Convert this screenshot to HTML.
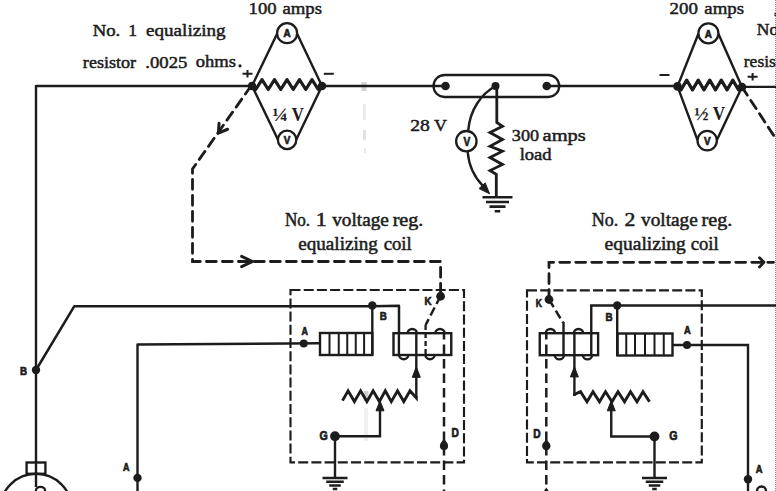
<!DOCTYPE html>
<html><head><meta charset="utf-8"><style>
html,body{margin:0;padding:0;background:#fff;}
body{width:776px;height:491px;overflow:hidden;}
svg{display:block;}
</style></head><body>
<svg width="776" height="491" viewBox="0 0 776 491">
<rect x="0" y="0" width="776" height="491" fill="#fff"/>
<rect x="768" y="0" width="8" height="491" fill="#fbfbfb" stroke="none"/><rect x="774.5" y="13" width="1.5" height="3" fill="#222"/><path d="M775.5,0 V491" stroke="#8a8a8a" stroke-width="1" stroke-dasharray="1 1"/>
<g stroke="#1c1c1c" fill="none" stroke-linecap="butt">
<rect x="364" y="408" width="4" height="33" fill="#f0f0f0" stroke="none"/>
<rect x="363.5" y="391" width="5" height="10" fill="#cfcfcf" stroke="none"/>
<rect x="364" y="148" width="2" height="5" fill="#e8e8e8" stroke="none"/>
<rect x="363" y="130" width="3" height="10" fill="#e2e2e2" stroke="none"/>
<rect x="363" y="104" width="3" height="16" fill="#ebebeb" stroke="none"/>
<rect x="361.5" y="82" width="5" height="9" fill="#d4d4d4" stroke="none"/>
<circle cx="240" cy="65.8" r="1.6" fill="#1c1c1c" stroke="none"/>
<path d="M242.5,73.8 H252.5 M247.5,70.0 V77.6" stroke-width="2" />
<path d="M323.8,73.8 H333.8" stroke-width="2" />
<path d="M659.5,75 H669.5" stroke-width="2" />
<path d="M747.6,76.8 H757.6 M752.6,73.0 V80.6" stroke-width="2" />
<path d="M36,86 H252 M322,86 H445.5 M546.75,86 H677.5 M742,86.9 H776" stroke-width="2.4" />
<path d="M36,84.9 V487" stroke-width="2.4" />
<path d="M252,86 L277.1,33.7 M322,86 L297.1,33.7" stroke-width="2.4" />
<path d="M252,86 L277.90000000000003,139.4 M322,86 L296.3,139.4" stroke-width="2.4" />
<circle cx="287.1" cy="33.2" r="10.0" fill="#fff" stroke-width="2.3"/>
<circle cx="287.1" cy="139.9" r="9.2" fill="#fff" stroke-width="2.3"/>
<text transform="translate(287.10,37.44) scale(0.9,1)" x="0" y="0" font-family="Liberation Sans" font-size="11" font-weight="bold" text-anchor="middle" fill="#1c1c1c" stroke="#1c1c1c" stroke-width="0.7">A</text>
<text transform="translate(287.10,144.14) scale(0.9,1)" x="0" y="0" font-family="Liberation Sans" font-size="11" font-weight="bold" text-anchor="middle" fill="#1c1c1c" stroke="#1c1c1c" stroke-width="0.7">V</text>
<path d="M252.00,86.00 L255.75,89.50 L262.00,79.70 L268.25,89.50 L274.50,79.70 L280.75,89.50 L287.00,79.70 L293.25,89.50 L299.50,79.70 L305.75,89.50 L312.00,79.70 L318.25,89.50 L322.00,86.00" stroke-width="3.2" stroke-linejoin="round"/>
<circle cx="252" cy="86" r="4.3" fill="#1c1c1c" stroke="none"/>
<circle cx="322" cy="86" r="4.3" fill="#1c1c1c" stroke="none"/>
<path d="M677.5,86.4 L698.4,33.8 M742,87 L718.4,33.8" stroke-width="2.4" />
<path d="M677.5,86.4 L697.5,140.1 M742,87 L716.9000000000001,140.1" stroke-width="2.4" />
<circle cx="708.4" cy="33.3" r="10.0" fill="#fff" stroke-width="2.3"/>
<circle cx="707.2" cy="140.6" r="9.7" fill="#fff" stroke-width="2.3"/>
<text transform="translate(708.40,37.54) scale(0.9,1)" x="0" y="0" font-family="Liberation Sans" font-size="11" font-weight="bold" text-anchor="middle" fill="#1c1c1c" stroke="#1c1c1c" stroke-width="0.7">A</text>
<text transform="translate(707.20,144.84) scale(0.9,1)" x="0" y="0" font-family="Liberation Sans" font-size="11" font-weight="bold" text-anchor="middle" fill="#1c1c1c" stroke="#1c1c1c" stroke-width="0.7">V</text>
<path d="M677.50,86.40 L680.96,89.90 L686.71,80.10 L692.47,89.90 L698.23,80.10 L703.99,89.90 L709.75,80.10 L715.51,89.90 L721.27,80.10 L727.03,89.90 L732.79,80.10 L738.54,89.90 L742.00,87.00" stroke-width="3.2" stroke-linejoin="round"/>
<circle cx="677.5" cy="86.4" r="4.3" fill="#1c1c1c" stroke="none"/>
<circle cx="742" cy="87" r="4.3" fill="#1c1c1c" stroke="none"/>
<rect x="433.5" y="75" width="125.75" height="22" rx="11" ry="11" fill="none" stroke-width="2.3"/>
<circle cx="445.5" cy="86" r="4.3" fill="#1c1c1c" stroke="none"/>
<circle cx="546.75" cy="86" r="4.3" fill="#1c1c1c" stroke="none"/>
<circle cx="495.5" cy="86" r="4.0" fill="#1c1c1c" stroke="none"/>
<path d="M496.80,86.00 L496.80,122.50 L502.50,126.30 L490.00,132.50 L502.50,139.40 L490.00,146.20 L502.50,151.20 L490.00,157.50 L502.50,164.40 L490.00,170.60 L496.30,174.40 L496.30,197.30" stroke-width="2.8" stroke-linejoin="miter" stroke-miterlimit="6"/>
<path d="M482.50,197.30 H512.50 M486.00,201.95 H509.00 M489.50,206.60 H505.50 M494.75,211.25 H500.25 " stroke-width="2.6" />
<path d="M495.5,86 C481,94 470,110 468.3,130" stroke-width="2.4" />
<path d="M467.7,152 C469,168 476,179 483.5,186.5" stroke-width="2.4" />
<path d="M489.60,193.80 L479.04,188.60 L485.19,182.88 Z" fill="#1c1c1c" stroke-width="1" stroke-linejoin="round"/>
<circle cx="466.35" cy="141.2" r="10.2" fill="#fff" stroke-width="2.3"/>
<text transform="translate(466.80,146.20) scale(0.85,1)" x="0" y="0" font-family="Liberation Sans" font-size="12" font-weight="bold" text-anchor="middle" fill="#1c1c1c" stroke="#1c1c1c" stroke-width="0.7">V</text>
<path d="M251,86 L192.5,169 V261.5 H440.6 V296" stroke-width="2.8" stroke-dasharray="9.8 6.2" stroke-dashoffset="0" stroke-linecap="round"/>
<path d="M219.05,123.26 L218.40,133.20 L227.55,129.25" stroke-width="3" stroke-linecap="round" stroke-linejoin="round"/>
<path d="M241.60,266.70 L252.60,261.50 L241.60,256.30" stroke-width="3" stroke-linecap="round" stroke-linejoin="round"/>
<path d="M742,87 L776,139" stroke-width="2.8" stroke-dasharray="9.8 6.2" stroke-dashoffset="0" stroke-linecap="round"/>
<path d="M549,299.5 V262.3 H773.5" stroke-width="2.8" stroke-dasharray="9.8 6.2" stroke-dashoffset="0" stroke-linecap="round"/>
<path d="M759.50,266.90 L764.00,262.30 L759.50,257.70" stroke-width="2.8" stroke-linecap="round" stroke-linejoin="round"/>
<rect x="290.5" y="290" width="173.5" height="172.3" fill="none" stroke-width="2.15" stroke-dasharray="10 3.2"/>
<rect x="527" y="290.3" width="174.8" height="172" fill="none" stroke-width="2.15" stroke-dasharray="10 3.2"/>
<path d="M36,370 L74.2,306.3 H372 L399,305.7 V333.2" stroke-width="2.5" stroke-linejoin="round"/>
<path d="M372.3,305.5 V355" stroke-width="2.4" />
<path d="M137.5,491 V344.5 L320,343.3" stroke-width="2.4" stroke-linejoin="round"/>
<circle cx="36" cy="370" r="4.2" fill="#1c1c1c" stroke="none"/>
<circle cx="372.3" cy="305.5" r="4.2" fill="#1c1c1c" stroke="none"/>
<circle cx="303.75" cy="343.5" r="4.0" fill="#1c1c1c" stroke="none"/>
<circle cx="137.5" cy="477.9" r="4.2" fill="#1c1c1c" stroke="none"/>
<text transform="translate(23.50,374.82) scale(0.85,1)" x="0" y="0" font-family="Liberation Sans" font-size="11.5" font-weight="bold" text-anchor="middle" fill="#1c1c1c" stroke="#1c1c1c" stroke-width="0.7">B</text>
<text transform="translate(383.20,319.52) scale(0.85,1)" x="0" y="0" font-family="Liberation Sans" font-size="11.5" font-weight="bold" text-anchor="middle" fill="#1c1c1c" stroke="#1c1c1c" stroke-width="0.7">B</text>
<text transform="translate(304.75,335.01) scale(0.85,1)" x="0" y="0" font-family="Liberation Sans" font-size="10.5" font-weight="bold" text-anchor="middle" fill="#1c1c1c" stroke="#1c1c1c" stroke-width="0.7">A</text>
<text transform="translate(126.20,470.96) scale(0.85,1)" x="0" y="0" font-family="Liberation Sans" font-size="10.5" font-weight="bold" text-anchor="middle" fill="#1c1c1c" stroke="#1c1c1c" stroke-width="0.7">A</text>
<text transform="translate(428.00,304.52) scale(0.85,1)" x="0" y="0" font-family="Liberation Sans" font-size="11.5" font-weight="bold" text-anchor="middle" fill="#1c1c1c" stroke="#1c1c1c" stroke-width="0.7">K</text>
<text transform="translate(323.75,439.78) scale(0.85,1)" x="0" y="0" font-family="Liberation Sans" font-size="12.5" font-weight="bold" text-anchor="middle" fill="#1c1c1c" stroke="#1c1c1c" stroke-width="0.7">G</text>
<text transform="translate(455.30,436.50) scale(0.85,1)" x="0" y="0" font-family="Liberation Sans" font-size="12" font-weight="bold" text-anchor="middle" fill="#1c1c1c" stroke="#1c1c1c" stroke-width="0.7">D</text>
<rect x="320" y="333" width="52.3" height="22" fill="none" stroke-width="2.4"/>
<path d="M329.5,333 V355 M338.75,333 V355 M347.25,333 V355 M355.75,333 V355 M364.1,333 V355" stroke-width="2.0" />
<rect x="393.5" y="333.2" width="57.75" height="21.8" fill="none" stroke-width="2.4"/>
<path d="M398.9,333 V355" stroke-width="2.4" />
<path d="M407.65,333.2 A4.6,4.2 0 0 1 416.85,333.2" stroke-width="2.4" />
<path d="M435.4,333.2 A4.6,4.2 0 0 1 444.6,333.2" stroke-width="2.4" />
<path d="M399.15,355 A4.6,4.2 0 0 0 408.35,355" stroke-width="2.4" />
<path d="M425.4,355 A4.6,4.2 0 0 0 434.6,355" stroke-width="2.4" />
<path d="M416.3,333 V397.5" stroke-width="2.4" />
<path d="M425.6,325 V355" stroke-width="2.3" stroke-dasharray="5 3" stroke-dashoffset="0" stroke-linecap="butt"/>
<path d="M444,333 V491" stroke-width="2.5" stroke-dasharray="9.5 5" stroke-dashoffset="3" stroke-linecap="butt"/>
<path d="M416.30,366.80 L420.30,377.30 L412.30,377.30 Z" fill="#1c1c1c" stroke-width="1" stroke-linejoin="round"/>
<circle cx="440.6" cy="296.25" r="4.4" fill="#1c1c1c" stroke="none"/>
<path d="M440.6,296 L425.6,325" stroke-width="2.5" stroke-dasharray="9 4" stroke-dashoffset="0" stroke-linecap="butt"/>
<path d="M342.50,400.60 L348.10,390.80 L354.40,401.60 L360.60,390.80 L366.90,401.60 L373.10,390.80 L379.40,401.60 L385.30,390.80 L391.30,401.60 L397.50,390.80 L403.80,401.60 L410.00,390.80 L416.30,398.00 L416.30,396.00" stroke-width="2.9" stroke-linejoin="miter" stroke-miterlimit="6"/>
<path d="M335,436.25 H380 V408" stroke-width="2.4" />
<path d="M380.00,400.80 L384.00,410.80 L376.00,410.80 Z" fill="#1c1c1c" stroke-width="1" stroke-linejoin="round"/>
<circle cx="335" cy="436.25" r="4.9" fill="#1c1c1c" stroke="none"/>
<path d="M335,436.25 V478" stroke-width="2.4" />
<path d="M322.50,478.00 H347.50 M326.25,481.70 H343.75 M329.25,485.40 H340.75 M332.75,489.10 H337.25 " stroke-width="2.5" />
<circle cx="444" cy="446" r="4.1" fill="#1c1c1c" stroke="none"/>
<path d="M444,438.8 L447.6,443.5 L440.4,443.5 Z" fill="#1c1c1c" stroke="none"/>
<path d="M591.25,333 V305.5 H776" stroke-width="2.4" />
<path d="M617.2,305.5 V356" stroke-width="2.4" />
<path d="M672.5,345 H748 V491" stroke-width="2.4" />
<circle cx="617.2" cy="305.5" r="4.2" fill="#1c1c1c" stroke="none"/>
<circle cx="687" cy="345" r="4.0" fill="#1c1c1c" stroke="none"/>
<circle cx="748" cy="479.3" r="4.2" fill="#1c1c1c" stroke="none"/>
<text transform="translate(538.80,307.18) scale(0.85,1)" x="0" y="0" font-family="Liberation Sans" font-size="10" font-weight="bold" text-anchor="middle" fill="#1c1c1c" stroke="#1c1c1c" stroke-width="0.7">K</text>
<text transform="translate(609.10,320.97) scale(0.85,1)" x="0" y="0" font-family="Liberation Sans" font-size="11.5" font-weight="bold" text-anchor="middle" fill="#1c1c1c" stroke="#1c1c1c" stroke-width="0.7">B</text>
<text transform="translate(687.35,333.94) scale(0.85,1)" x="0" y="0" font-family="Liberation Sans" font-size="11" font-weight="bold" text-anchor="middle" fill="#1c1c1c" stroke="#1c1c1c" stroke-width="0.7">A</text>
<text transform="translate(537.00,437.70) scale(0.85,1)" x="0" y="0" font-family="Liberation Sans" font-size="12" font-weight="bold" text-anchor="middle" fill="#1c1c1c" stroke="#1c1c1c" stroke-width="0.7">D</text>
<text transform="translate(673.35,440.38) scale(0.85,1)" x="0" y="0" font-family="Liberation Sans" font-size="12.5" font-weight="bold" text-anchor="middle" fill="#1c1c1c" stroke="#1c1c1c" stroke-width="0.7">G</text>
<text transform="translate(759.00,472.54) scale(0.85,1)" x="0" y="0" font-family="Liberation Sans" font-size="11" font-weight="bold" text-anchor="middle" fill="#1c1c1c" stroke="#1c1c1c" stroke-width="0.7">A</text>
<rect x="617.5" y="333.5" width="55" height="22" fill="none" stroke-width="2.4"/>
<path d="M626.25,333.5 V355.5 M635,333.5 V355.5 M645,333.5 V355.5 M654.5,333.5 V355.5 M663.75,333.5 V355.5" stroke-width="2.0" />
<rect x="539.75" y="333.2" width="58.35" height="22" fill="none" stroke-width="2.4"/>
<path d="M545.8,333.2 A4.6,4.2 0 0 1 555.0,333.2" stroke-width="2.4" />
<path d="M573.9,333.2 A4.6,4.2 0 0 1 583.1,333.2" stroke-width="2.4" />
<path d="M554.8,355.2 A4.6,4.2 0 0 0 564.0,355.2" stroke-width="2.4" />
<path d="M582.9,355.2 A4.6,4.2 0 0 0 592.1,355.2" stroke-width="2.4" />
<path d="M563.5,322 V355.2" stroke-width="2.4" />
<path d="M574.4,333 V396" stroke-width="2.4" />
<path d="M591.25,333 V355.2" stroke-width="2.4" />
<path d="M546.3,333 V491" stroke-width="2.5" stroke-dasharray="9.5 5" stroke-dashoffset="3" stroke-linecap="butt"/>
<path d="M574.40,366.90 L578.40,376.90 L570.40,376.90 Z" fill="#1c1c1c" stroke-width="1" stroke-linejoin="round"/>
<circle cx="549" cy="299.5" r="4.4" fill="#1c1c1c" stroke="none"/>
<path d="M549,299.5 L563,322.5" stroke-width="2.5" stroke-dasharray="9 4" stroke-dashoffset="0" stroke-linecap="butt"/>
<path d="M574.40,396.00 L574.40,394.50 L580.50,391.70 L587.00,401.70 L593.00,391.70 L599.50,401.70 L605.50,391.70 L612.00,401.70 L618.00,391.70 L624.50,401.70 L630.50,391.70 L637.00,401.70 L643.00,391.70 L649.50,401.70" stroke-width="2.9" stroke-linejoin="miter" stroke-miterlimit="6"/>
<path d="M654.5,436.5 H611.25 V408" stroke-width="2.4" />
<path d="M611.25,400.80 L615.25,410.80 L607.25,410.80 Z" fill="#1c1c1c" stroke-width="1" stroke-linejoin="round"/>
<circle cx="654.5" cy="436.5" r="4.9" fill="#1c1c1c" stroke="none"/>
<path d="M654.5,436.5 V478" stroke-width="2.4" />
<path d="M642.00,478.00 H667.00 M645.75,481.70 H663.25 M648.75,485.40 H660.25 M652.25,489.10 H656.75 " stroke-width="2.5" />
<circle cx="546.3" cy="446" r="4.2" fill="#1c1c1c" stroke="none"/>
<path d="M546.3,439.5 L549.8,443.5 L542.8,443.5 Z" fill="#1c1c1c" stroke="none"/>
<path d="M546.3,487.5 L550,493 L542.6,493 Z" fill="#1c1c1c" stroke="none"/>
<rect x="26.6" y="462.5" width="18.8" height="11.3" fill="none" stroke-width="2.4"/>
<circle cx="36" cy="509.8" r="36" fill="none" stroke-width="2.4"/>
<ellipse cx="40.5" cy="490.5" rx="4.6" ry="3.6" fill="none" stroke-width="2.2"/>
<path d="M757,491 A4.5,4.5 0 0 1 766,491" fill="none" stroke-width="2.4"/>
</g>
<g fill="#1c1c1c">
<text x="248.60" y="14.4" font-family="Liberation Serif" font-size="17.5" font-weight="normal" textLength="27.99" lengthAdjust="spacingAndGlyphs" stroke="#1c1c1c" stroke-width="0.5">100</text>
<text x="282.46" y="14.4" font-family="Liberation Serif" font-size="17.5" font-weight="normal" textLength="39.53" lengthAdjust="spacingAndGlyphs" stroke="#1c1c1c" stroke-width="0.5">amps</text>
<text x="669.54" y="14.3" font-family="Liberation Serif" font-size="17.5" font-weight="normal" textLength="28.37" lengthAdjust="spacingAndGlyphs" stroke="#1c1c1c" stroke-width="0.5">200</text>
<text x="704.35" y="14.3" font-family="Liberation Serif" font-size="17.5" font-weight="normal" textLength="39.73" lengthAdjust="spacingAndGlyphs" stroke="#1c1c1c" stroke-width="0.5">amps</text>
<text x="92.66" y="36" font-family="Liberation Serif" font-size="17.5" font-weight="normal" textLength="27.58" lengthAdjust="spacingAndGlyphs" stroke="#1c1c1c" stroke-width="0.5">No.</text>
<text x="128.24" y="36" font-family="Liberation Serif" font-size="17.5" font-weight="normal" textLength="8.82" lengthAdjust="spacingAndGlyphs" stroke="#1c1c1c" stroke-width="0.5">1</text>
<text x="146.04" y="36" font-family="Liberation Serif" font-size="17.5" font-weight="normal" textLength="79.59" lengthAdjust="spacingAndGlyphs" stroke="#1c1c1c" stroke-width="0.5">equalizing</text>
<text x="82.89" y="67.8" font-family="Liberation Serif" font-size="17.5" font-weight="normal" textLength="53.23" lengthAdjust="spacingAndGlyphs" stroke="#1c1c1c" stroke-width="0.5">resistor</text>
<text x="145.22" y="67.6" font-family="Liberation Serif" font-size="17.5" font-weight="normal" textLength="42.20" lengthAdjust="spacingAndGlyphs" stroke="#1c1c1c" stroke-width="0.5">.0025</text>
<text x="195.76" y="67.3" font-family="Liberation Serif" font-size="17.5" font-weight="normal" textLength="40.31" lengthAdjust="spacingAndGlyphs" stroke="#1c1c1c" stroke-width="0.5">ohms</text>
<text x="756.80" y="35" font-family="Liberation Serif" font-size="17.5" font-weight="normal" stroke="#1c1c1c" stroke-width="0.5">No</text>
<text x="743.80" y="67.2" font-family="Liberation Serif" font-size="17.5" font-weight="normal" stroke="#1c1c1c" stroke-width="0.5">resis</text>
<text x="410.20" y="131" font-family="Liberation Serif" font-size="17.5" font-weight="normal" textLength="19.67" lengthAdjust="spacingAndGlyphs" stroke="#1c1c1c" stroke-width="0.5">28</text>
<text x="434.10" y="131" font-family="Liberation Serif" font-size="17.5" font-weight="normal" textLength="12.95" lengthAdjust="spacingAndGlyphs" stroke="#1c1c1c" stroke-width="0.5">V</text>
<text x="511.87" y="140.6" font-family="Liberation Serif" font-size="17.5" font-weight="normal" textLength="27.20" lengthAdjust="spacingAndGlyphs" stroke="#1c1c1c" stroke-width="0.5">300</text>
<text x="542.60" y="140.6" font-family="Liberation Serif" font-size="17.5" font-weight="normal" textLength="43.15" lengthAdjust="spacingAndGlyphs" stroke="#1c1c1c" stroke-width="0.5">amps</text>
<text x="519.68" y="160.2" font-family="Liberation Serif" font-size="17.5" font-weight="normal" textLength="31.96" lengthAdjust="spacingAndGlyphs" stroke="#1c1c1c" stroke-width="0.5">load</text>
<text x="284.92" y="226.0" font-family="Liberation Serif" font-size="18" font-weight="normal" textLength="25.22" lengthAdjust="spacingAndGlyphs" stroke="#1c1c1c" stroke-width="0.5">No.</text>
<text x="315.74" y="226.0" font-family="Liberation Serif" font-size="18" font-weight="normal" textLength="11.00" lengthAdjust="spacingAndGlyphs" stroke="#1c1c1c" stroke-width="0.5">1</text>
<text x="332.20" y="226.0" font-family="Liberation Serif" font-size="18" font-weight="normal" textLength="56.72" lengthAdjust="spacingAndGlyphs" stroke="#1c1c1c" stroke-width="0.5">voltage</text>
<text x="392.65" y="226.0" font-family="Liberation Serif" font-size="18" font-weight="normal" textLength="30.77" lengthAdjust="spacingAndGlyphs" stroke="#1c1c1c" stroke-width="0.5">reg.</text>
<text x="298.26" y="249.5" font-family="Liberation Serif" font-size="18" font-weight="normal" textLength="79.63" lengthAdjust="spacingAndGlyphs" stroke="#1c1c1c" stroke-width="0.5">equalizing</text>
<text x="383.67" y="249.5" font-family="Liberation Serif" font-size="18" font-weight="normal" textLength="28.03" lengthAdjust="spacingAndGlyphs" stroke="#1c1c1c" stroke-width="0.5">coil</text>
<text x="591.70" y="226.1" font-family="Liberation Serif" font-size="18" font-weight="normal" textLength="26.50" lengthAdjust="spacingAndGlyphs" stroke="#1c1c1c" stroke-width="0.5">No.</text>
<text x="624.63" y="226.1" font-family="Liberation Serif" font-size="18" font-weight="normal" textLength="10.87" lengthAdjust="spacingAndGlyphs" stroke="#1c1c1c" stroke-width="0.5">2</text>
<text x="641.10" y="226.1" font-family="Liberation Serif" font-size="18" font-weight="normal" textLength="56.72" lengthAdjust="spacingAndGlyphs" stroke="#1c1c1c" stroke-width="0.5">voltage</text>
<text x="701.55" y="226.1" font-family="Liberation Serif" font-size="18" font-weight="normal" textLength="30.77" lengthAdjust="spacingAndGlyphs" stroke="#1c1c1c" stroke-width="0.5">reg.</text>
<text x="604.54" y="249.5" font-family="Liberation Serif" font-size="18" font-weight="normal" textLength="81.35" lengthAdjust="spacingAndGlyphs" stroke="#1c1c1c" stroke-width="0.5">equalizing</text>
<text x="690.67" y="249.5" font-family="Liberation Serif" font-size="18" font-weight="normal" textLength="28.03" lengthAdjust="spacingAndGlyphs" stroke="#1c1c1c" stroke-width="0.5">coil</text>
<text x="272.21" y="120.9" font-family="Liberation Serif" font-size="19" font-weight="bold" textLength="15.77" lengthAdjust="spacingAndGlyphs" stroke="#1c1c1c" stroke-width="0.1">&#188;</text>
<text x="291.82" y="120.9" font-family="Liberation Serif" font-size="19" font-weight="bold" textLength="12.07" lengthAdjust="spacingAndGlyphs" stroke="#1c1c1c" stroke-width="0.1">V</text>
<text x="694.29" y="119.7" font-family="Liberation Serif" font-size="19" font-weight="bold" textLength="14.36" lengthAdjust="spacingAndGlyphs" stroke="#1c1c1c" stroke-width="0.1">&#189;</text>
<text x="712.82" y="119.7" font-family="Liberation Serif" font-size="19" font-weight="bold" textLength="12.38" lengthAdjust="spacingAndGlyphs" stroke="#1c1c1c" stroke-width="0.1">V</text>
</g>
</svg>
</body></html>
